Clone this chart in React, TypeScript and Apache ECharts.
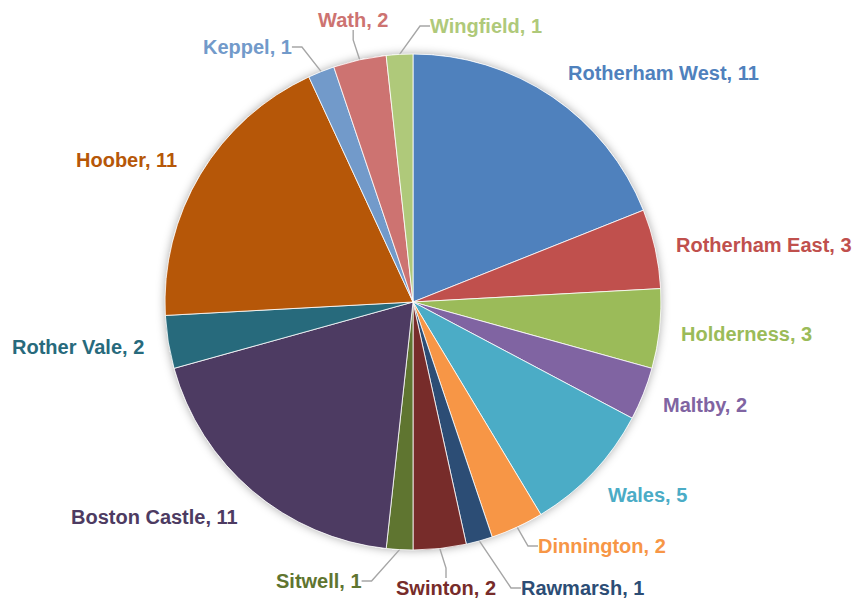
import React, { useEffect, useRef } from "react";
import * as echarts from "echarts";

const categories = [
  "Rotherham West",
  "Rotherham East",
  "Holderness",
  "Maltby",
  "Wales",
  "Dinnington",
  "Rawmarsh",
  "Swinton",
  "Sitwell",
  "Boston Castle",
  "Rother Vale",
  "Hoober",
  "Keppel",
  "Wath",
  "Wingfield",
];

const values = [11, 3, 3, 2, 5, 2, 1, 2, 1, 11, 2, 11, 1, 2, 1];

const colors = [
  "#4F81BD",
  "#C0504D",
  "#9BBB59",
  "#8064A2",
  "#4BACC6",
  "#F79646",
  "#2C4D75",
  "#772C2A",
  "#5F7530",
  "#4D3B62",
  "#276A7C",
  "#B65708",
  "#729ACA",
  "#CD7371",
  "#AFC97A",
];

// which labels get a leader line
const leaderLines = [false, false, false, false, false, true, true, true, true, false, false, false, true, true, true];

// label anchor (left x, middle y) in pixels
const labelPos: [number, number][] = [
  [568, 73],
  [676, 245],
  [681, 334],
  [663, 405],
  [608, 495],
  [538, 546],
  [521, 588],
  [396, 588],
  [276, 581],
  [71, 517],
  [12, 347],
  [76, 160],
  [203, 47],
  [318, 20],
  [430, 26],
];

export default function App() {
  const ref = useRef<HTMLDivElement>(null);

  useEffect(() => {
    document.body.style.margin = "0";
    if (!ref.current) return;
    const chart = echarts.init(ref.current, undefined, { renderer: "svg" });
    const center = [413, 302];
    const radius = 248;
    chart.setOption({
      animation: false,
      backgroundColor: "#ffffff",
      series: [
        {
          type: "pie",
          silent: true,
          z: 1,
          center,
          radius,
          label: { show: false },
          labelLine: { show: false },
          itemStyle: {
            color: "#ffffff",
            shadowBlur: 10,
            shadowColor: "rgba(0,0,0,0.35)",
          },
          data: [{ value: 1, name: "bg" }],
        },
        {
          type: "pie",
          z: 2,
          center,
          radius,
          startAngle: 90,
          clockwise: true,
          avoidLabelOverlap: false,
          itemStyle: { borderColor: "#ffffff", borderWidth: 0.8 },
          label: {
            show: true,
            position: "outside",
            formatter: "{b}, {c}",
            fontFamily: "Liberation Sans, Arial, sans-serif",
            fontWeight: "bold",
            fontSize: 20,
          },
          labelLine: {
            lineStyle: { color: "#A6A6A6", width: 1.4 },
            length: 10,
            length2: 10,
          },
          labelLayout: (params: any) => {
            const p = labelPos[params.dataIndex];
            return { x: p[0], y: p[1], align: "left", verticalAlign: "middle" };
          },
          data: categories.map((name, i) => ({
            name,
            value: values[i],
            itemStyle: { color: colors[i] },
            label: { color: colors[i] },
            labelLine: { show: leaderLines[i] },
          })),
        },
      ],
    });
    return () => chart.dispose();
  }, []);

  return <div ref={ref} style={{ width: 856, height: 600 }} />;
}
